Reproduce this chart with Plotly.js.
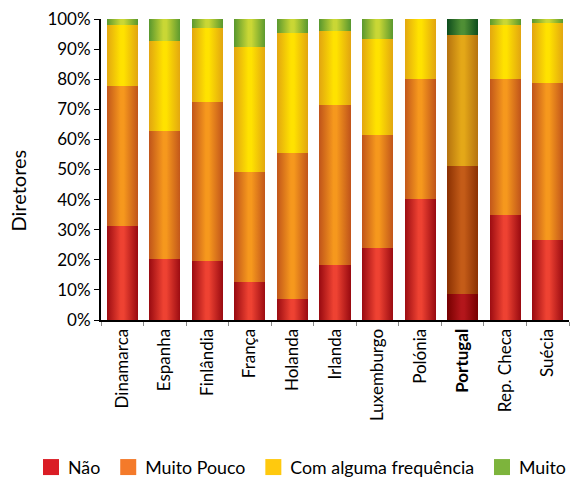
<!DOCTYPE html>
<html><head><meta charset="utf-8">
<script src="https://cdn.plot.ly/plotly-3.0.1.min.js"></script>
<style>html,body{margin:0;padding:0;background:#fff}</style>
</head><body>
<div id="chart" style="width:572px;height:478px"></div>
<script>
const categories = ["Dinamarca","Espanha","Finlândia","França","Holanda","Irlanda","Luxemburgo","Polónia","Portugal","Rep. Checa","Suécia"];
const seriesNames = ["Não","Muito Pouco","Com alguma frequência","Muito"];
const nao        = [31.3, 20.3, 19.7, 12.7,  7.1, 18.4, 24.0, 40.3,  8.7, 35.0, 26.7];
const muitoPouco = [46.5, 42.5, 52.8, 36.5, 48.4, 53.1, 37.5, 39.9, 42.5, 45.2, 52.1];
const comAlguma  = [20.2, 29.9, 24.5, 41.5, 39.9, 24.6, 31.9, 19.8, 43.5, 17.8, 19.9];
const muito      = [ 2.0,  7.3,  3.0,  9.3,  4.6,  3.9,  6.6,  0.0,  5.3,  2.0,  1.3];
const yTickVals  = [0,10,20,30,40,50,60,70,80,90,100];
const yTitle     = "Diretores";
const highlight  = "Portugal";

const legendColors = ["#da1d25","#f47a2a","#ffc90e","#7db43c"];
// gradient colours: [edge, centre]
const gradNormal = [["#9a0b11","#ee4232"],["#c1551a","#f6981d"],["#e2a610","#ffe200"],["#5a982e","#c9d735"]];
const gradHigh   = [["#760000","#b3161b"],["#8a3002","#c45c18"],["#b5720f","#e4a818"],["#0d4c1d","#4f8f35"]];

const font = "Lato, 'Open Sans', sans-serif";
const values = [nao, muitoPouco, comAlguma, muito];
const data = values.map((v,i)=>({
  type:"bar", x:categories, y:v, name:seriesNames[i],
  marker:{color:legendColors[i], line:{width:0}}
}));

const layout = {
  width:572, height:478, barmode:"stack", bargap:0.27,
  margin:{l:101, r:3, t:19, b:158, autoexpand:false},
  paper_bgcolor:"#fff", plot_bgcolor:"#fff",
  font:{family:font, size:17, color:"#000"},
  xaxis:{
    tickmode:"array", tickvals:categories,
    ticktext:categories.map(c=> c===highlight ? "<b>"+c+"</b>" : c),
    tickangle:-90, showline:true, linecolor:"#000", linewidth:2,
    ticks:"outside", tickson:"boundaries", ticklen:4, tickcolor:"#888", tickwidth:1,
    showgrid:false, zeroline:false, tickfont:{size:17}
  },
  yaxis:{
    range:[0,100], tickvals:yTickVals, ticktext:yTickVals.map(v=>v+"%"),
    showline:true, linecolor:"#000", linewidth:2,
    ticks:"outside", ticklen:5, tickcolor:"#000", tickwidth:1,
    showgrid:false, zeroline:false, tickfont:{size:17}
  },
  annotations:[{
    text:yTitle, textangle:-90, xref:"paper", yref:"paper",
    x:(17.5-101)/468, y:(320-191)/301, xanchor:"center", yanchor:"middle",
    showarrow:false, font:{size:20}
  }],
  legend:{orientation:"h", xref:"paper", yref:"paper", x:-0.156, y:-0.49,
          xanchor:"left", yanchor:"middle", font:{size:17.8}, traceorder:"normal",
          itemwidth:30},
  showlegend:true
};

Plotly.newPlot("chart", data, layout, {staticPlot:true, displayModeBar:false}).then(gd=>{
  const svgNS = "http://www.w3.org/2000/svg";
  const svg = gd.querySelector(".main-svg");
  let defs = svg.querySelector("defs");
  if(!defs){ defs = document.createElementNS(svgNS,"defs"); svg.insertBefore(defs, svg.firstChild); }
  function mk(id, edge, centre){
    const g = document.createElementNS(svgNS,"linearGradient");
    g.setAttribute("id", id); g.setAttribute("x1","0"); g.setAttribute("x2","1");
    g.setAttribute("y1","0"); g.setAttribute("y2","0");
    [[0,edge],[0.45,centre],[0.55,centre],[1,edge]].forEach(([o,c])=>{
      const s = document.createElementNS(svgNS,"stop");
      s.setAttribute("offset", o); s.setAttribute("stop-color", c); g.appendChild(s);
    });
    defs.appendChild(g);
  }
  gradNormal.forEach((c,i)=>mk("gn"+i, c[0], c[1]));
  gradHigh.forEach((c,i)=>mk("gh"+i, c[0], c[1]));
  const hi = categories.indexOf(highlight);
  gd.querySelectorAll(".barlayer .trace").forEach((tr,ti)=>{
    tr.querySelectorAll(".point path").forEach((p,pi)=>{
      p.style.fill = "url(#" + (pi===hi ? "gh" : "gn") + ti + ")";
    });
  });
  gd.querySelectorAll(".legend .legendpoints path").forEach(p=>{
    p.setAttribute("d","M11,8H-5V-8H11Z");
  });
});
</script>
</body></html>
